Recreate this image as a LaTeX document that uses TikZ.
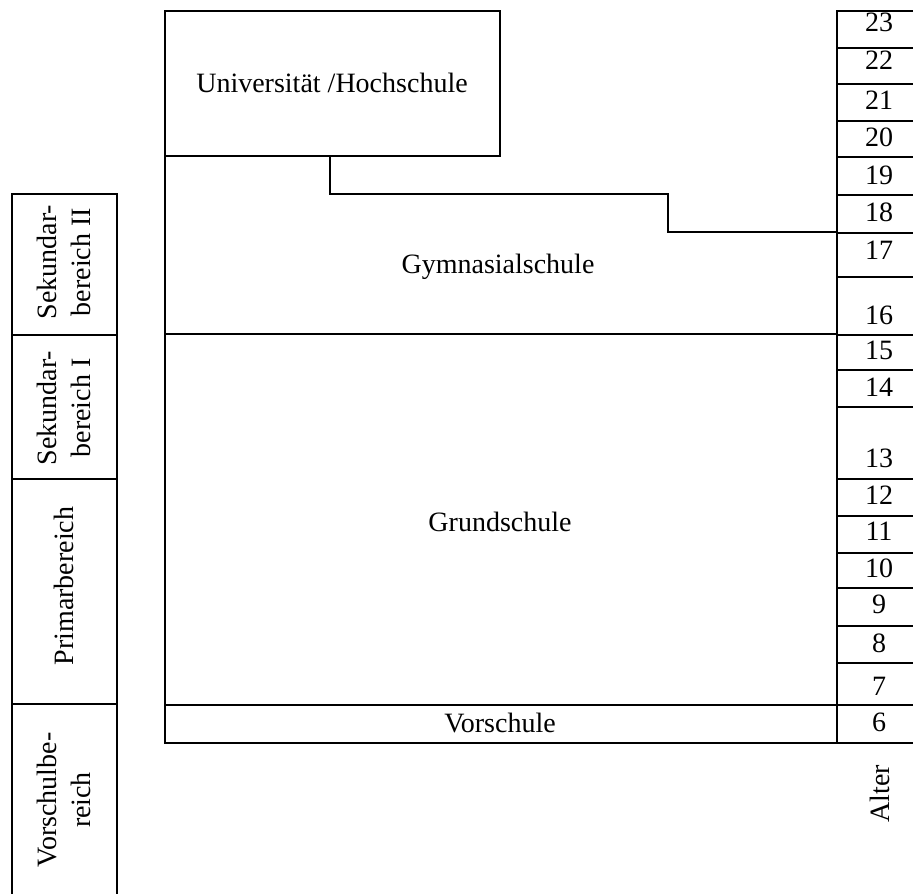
\documentclass[tikz,border=0pt]{standalone}
\usepackage{fontspec}
\setmainfont{Liberation Serif}
\usepackage{tikz}

\tikzset{
  schoolline/.style={line width=1.5pt, line cap=rect},
  schooltext/.style={font=\fontsize{21}{25.5}\selectfont, inner sep=0pt, align=center},
}

\begin{document}
\begin{tikzpicture}
\begin{scope}[x=0.75pt, y=-0.75pt]

\useasboundingbox (0,0) rectangle (913,893);

% Hochschule und Schulen
\draw[schoolline] (165,11) rectangle (500,156);
\draw[schoolline] (165,156) -- (165,743);
\draw[schoolline] (837,11) -- (837,743);
\draw[schoolline] (330,156) -- (330,194) -- (668,194) -- (668,232) -- (837,232);
\draw[schoolline] (165,334) -- (837,334);
\draw[schoolline] (165,705) -- (837,705);
\draw[schoolline] (165,743) -- (837,743);

\node[schooltext] (uni) at (332,83) {Universität /Hochschule};
\node[schooltext] (gym) at (498,267) {Gymnasialschule};
\node[schooltext] (grund) at (500,522) {Grundschule};
\node[schooltext] (vor) at (500,723) {Vorschule};

% Alter
\foreach \yy in {11,48,84,121,157,195,233,277,335,370,407,479,516,553,588,626,663,705,743}
  \draw[schoolline] (837,\yy) -- (913,\yy);

\foreach \age/\yy in {23/31,22/69,21/109,20/146,19/184,18/221,17/259,16/324,15/359,
                      14/396,13/467,12/504,11/540,10/577,9/613,8/652,7/695,6/731}
  \node[schooltext, anchor=base] (a\age) at (879,\yy) {\age};

\node[schooltext, rotate=90] (alter) at (880,794) {Alter};

% Bereiche
\draw[schoolline] (12,194) -- (12,893);
\draw[schoolline] (117,194) -- (117,893);
\foreach \yy in {194,335,479,704}
  \draw[schoolline] (12,\yy) -- (117,\yy);

\node[schooltext, rotate=90] (sek2) at (64,262) {Sekundar-\\bereich II};
\node[schooltext, rotate=90] (sek1) at (64,408) {Sekundar-\\bereich I};
\node[schooltext, rotate=90] (prim) at (64,586) {Primarbereich};
\node[schooltext, rotate=90] (vorber) at (64,800) {Vorschulbe-\\reich};

\end{scope}
\end{tikzpicture}
\end{document}
